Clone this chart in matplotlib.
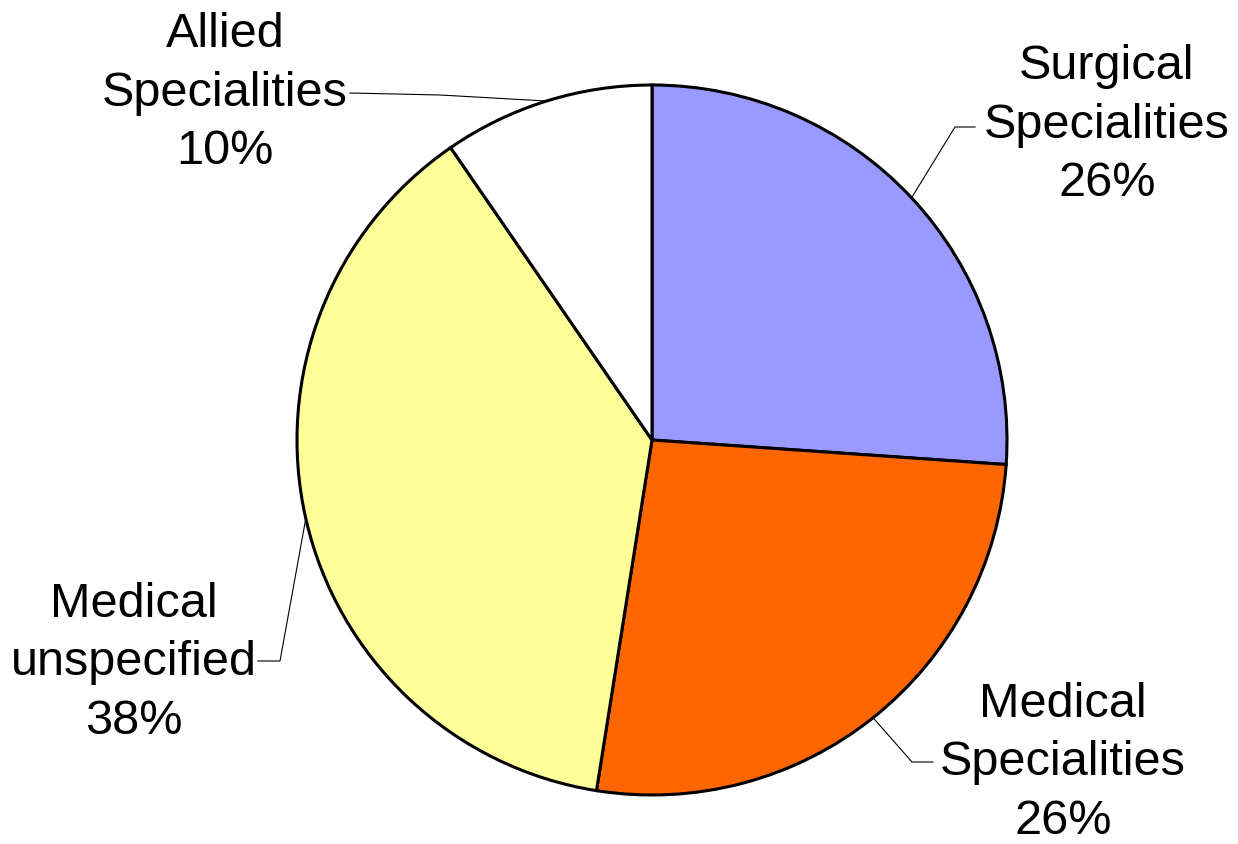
import numpy as np
import matplotlib
matplotlib.use("Agg")
import matplotlib.pyplot as plt

labels = ["Surgical\nSpecialities", "Medical\nSpecialities", "Medical\nunspecified", "Allied\nSpecialities"]
values = [26.1, 26.4, 37.9, 9.6]
colors = ["#9999FF", "#FF6600", "#FFFF99", "#FFFFFF"]

W, H = 1238, 845
fig = plt.figure(figsize=(W / 100, H / 100), dpi=100)
ax = fig.add_axes([0, 0, 1, 1])
ax.set_xlim(0, W)
ax.set_ylim(0, H)
ax.set_aspect("equal")
ax.axis("off")

cx, cy, R = 652, H - 441, 355
wedges, _ = ax.pie(values, colors=colors, startangle=90, counterclock=False,
                   center=(cx, cy), radius=R,
                   wedgeprops=dict(edgecolor="black", linewidth=2.2))
ax.set_xlim(0, W)
ax.set_ylim(0, H)

# label layout: text center, elbow point, line end near text
layout = [
    dict(text=(1107, H - 125), elbow=(955, H - 128), end=(975, H - 128)),
    dict(text=(1063, H - 763), elbow=(912, H - 763), end=(933, H - 763)),
    dict(text=(134, H - 663), elbow=(280, H - 662), end=(258, H - 662)),
    dict(text=(225, H - 93), elbow=(440, H - 96), end=(350, H - 94)),
]

total = sum(values)
for w, lab, v, lay in zip(wedges, labels, values, layout):
    mid = np.deg2rad((w.theta1 + w.theta2) / 2)
    sx, sy = cx + R * np.cos(mid), cy + R * np.sin(mid)
    ex, ey = lay["elbow"]
    tx, ty = lay["end"]
    ax.plot([sx, ex, tx], [sy, ey, ty], color="black", lw=0.8, zorder=0.5)
    pct = f"{round(v / total * 100):d}%"
    ax.text(lay["text"][0], lay["text"][1], f"{lab}\n{pct}", ha="center", va="center",
            fontsize=35, family="Liberation Sans", linespacing=1.38)

fig.savefig("out.png", dpi=100)
